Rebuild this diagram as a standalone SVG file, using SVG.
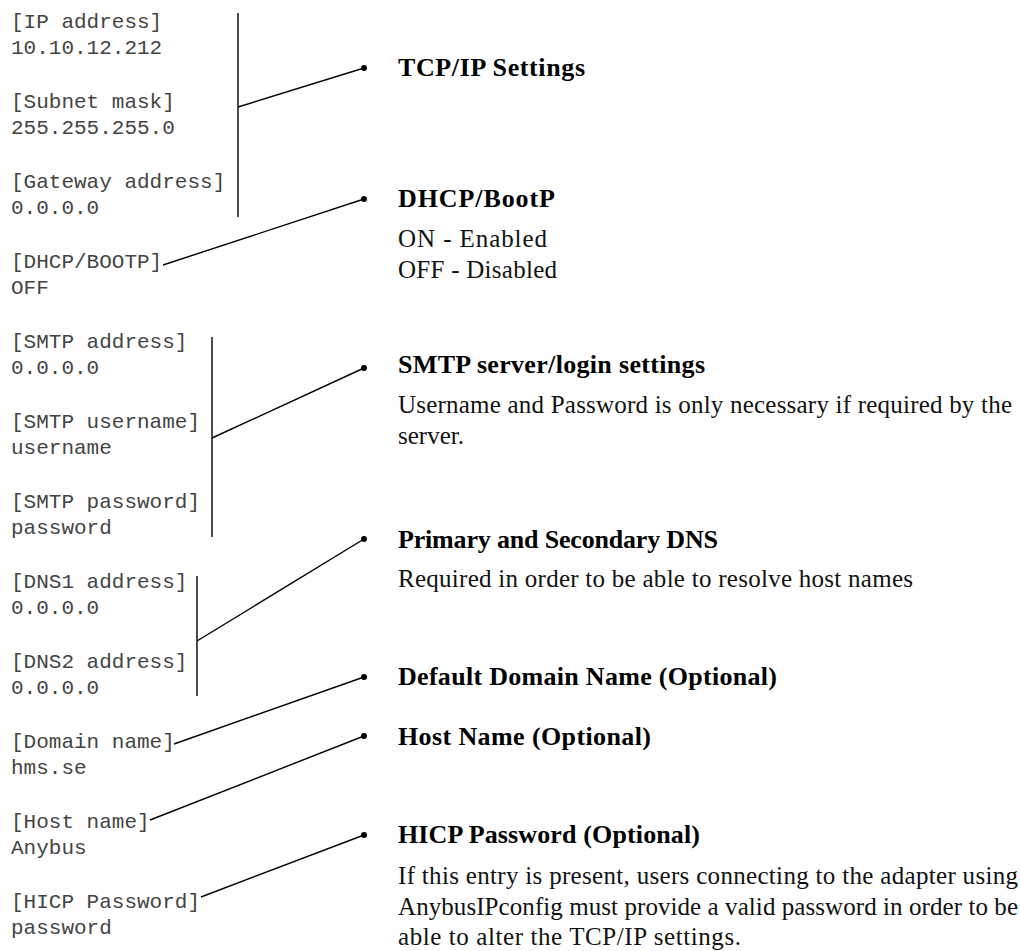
<svg xmlns="http://www.w3.org/2000/svg" width="1020" height="951" viewBox="0 0 1020 951">
<style>
.m{font-family:"Liberation Mono","Courier New",monospace;font-size:21px;fill:#444}
.h{font-family:"Liberation Serif","Times New Roman",serif;font-size:26px;font-weight:bold;fill:#000}
.b{font-family:"Liberation Serif","Times New Roman",serif;font-size:25px;fill:#111}
.ln{stroke:#000;stroke-width:1.4;fill:none}
.dot{fill:#000}
</style>
<rect width="1020" height="951" fill="#fff"/>
<g id="left-settings">
<g id="ip"><text class="m" x="11" y="28">[IP address]</text><text class="m" x="11" y="54">10.10.12.212</text></g>
<g id="subnet"><text class="m" x="11" y="108">[Subnet mask]</text><text class="m" x="11" y="134">255.255.255.0</text></g>
<g id="gateway"><text class="m" x="11" y="188">[Gateway address]</text><text class="m" x="11" y="214">0.0.0.0</text></g>
<g id="dhcp"><text class="m" x="11" y="268">[DHCP/BOOTP]</text><text class="m" x="11" y="294">OFF</text></g>
<g id="smtpaddr"><text class="m" x="11" y="348">[SMTP address]</text><text class="m" x="11" y="374">0.0.0.0</text></g>
<g id="smtpuser"><text class="m" x="11" y="428">[SMTP username]</text><text class="m" x="11" y="454">username</text></g>
<g id="smtppass"><text class="m" x="11" y="508">[SMTP password]</text><text class="m" x="11" y="534">password</text></g>
<g id="dns1"><text class="m" x="11" y="588">[DNS1 address]</text><text class="m" x="11" y="614">0.0.0.0</text></g>
<g id="dns2"><text class="m" x="11" y="668">[DNS2 address]</text><text class="m" x="11" y="694">0.0.0.0</text></g>
<g id="domain"><text class="m" x="11" y="748">[Domain name]</text><text class="m" x="11" y="774">hms.se</text></g>
<g id="host"><text class="m" x="11" y="828">[Host name]</text><text class="m" x="11" y="854">Anybus</text></g>
<g id="hicp"><text class="m" x="11" y="908">[HICP Password]</text><text class="m" x="11" y="934">password</text></g>
</g>
<g id="connectors">
<line class="ln" x1="238" y1="13" x2="238" y2="217"/>
<line class="ln" x1="238" y1="107" x2="364" y2="68"/>
<line class="ln" x1="163" y1="265" x2="364" y2="199"/>
<line class="ln" x1="212" y1="337" x2="212" y2="537"/>
<line class="ln" x1="212" y1="438" x2="364" y2="368"/>
<line class="ln" x1="197" y1="576" x2="197" y2="696"/>
<line class="ln" x1="197" y1="641" x2="364" y2="539"/>
<line class="ln" x1="174" y1="744" x2="364" y2="677"/>
<line class="ln" x1="150" y1="820" x2="364" y2="736"/>
<line class="ln" x1="201" y1="897" x2="364" y2="835"/>
<circle class="dot" cx="364" cy="68" r="3"/>
<circle class="dot" cx="364" cy="199" r="3"/>
<circle class="dot" cx="364" cy="368" r="3"/>
<circle class="dot" cx="364" cy="539" r="3"/>
<circle class="dot" cx="364" cy="677" r="3"/>
<circle class="dot" cx="364" cy="736" r="3"/>
<circle class="dot" cx="364" cy="835" r="3"/>
</g>
<g id="n-tcpip"><text class="h" x="398" y="76" textLength="187">TCP/IP Settings</text></g>
<g id="n-dhcp"><text class="h" x="398" y="207" textLength="157">DHCP/BootP</text>
<text class="b" x="398" y="247" textLength="149">ON - Enabled</text>
<text class="b" x="398" y="278" textLength="159">OFF - Disabled</text></g>
<g id="n-smtp"><text class="h" x="398" y="373" textLength="307">SMTP server/login settings</text>
<text class="b" x="398" y="413" textLength="614">Username and Password is only necessary if required by the</text>
<text class="b" x="398" y="444">server.</text></g>
<g id="n-dns"><text class="h" x="398" y="548" textLength="320">Primary and Secondary DNS</text>
<text class="b" x="398" y="587" textLength="515">Required in order to be able to resolve host names</text></g>
<g id="n-domain"><text class="h" x="398" y="685" textLength="379">Default Domain Name (Optional)</text></g>
<g id="n-host"><text class="h" x="398" y="745" textLength="253">Host Name (Optional)</text></g>
<g id="n-hicp"><text class="h" x="398" y="843" textLength="302">HICP Password (Optional)</text>
<text class="b" x="398" y="884" textLength="620">If this entry is present, users connecting to the adapter using</text>
<text class="b" x="398" y="915" textLength="620">AnybusIPconfig must provide a valid password in order to be</text>
<text class="b" x="398" y="945" textLength="343">able to alter the TCP/IP settings.</text></g>
</svg>
